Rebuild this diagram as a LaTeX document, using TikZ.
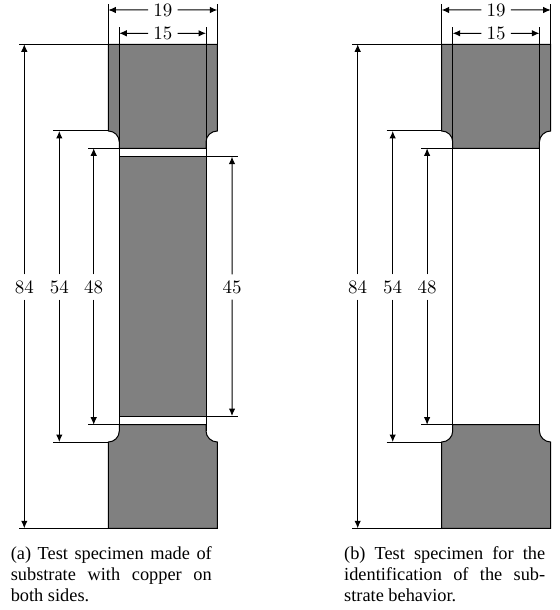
\documentclass[tikz,border=0pt]{standalone}
\usepackage{fontspec}
\usetikzlibrary{arrows.meta}
\newfontfamily\capfont{Liberation Serif}
\tikzset{
  body/.style={draw=black,fill=black!50,line width=1bp},
  edge/.style={draw=black,line width=1bp},
  dimline/.style={draw=black,line width=1bp,-{Latex[length=7.5bp,width=6.5bp]}},
  dimlabel/.style={font=\fontsize{10}{12}\selectfont,scale=1.9,fill=white,inner xsep=2.6bp,inner ysep=2.9bp},
  toplabel/.style={dimlabel,inner ysep=0.5bp},
  captiontext/.style={font=\capfont\fontsize{18.4}{20.8}\selectfont,text width=201bp,inner sep=0pt,anchor=north west}
}
\newcommand{\capline}[1]{\par\noindent\hbox to 201bp{\spaceskip=0pt\xspaceskip=0pt #1}\par}
\newcommand{\specimen}{%
  \path[body] (108.3,44.3)--(217.3,44.3)--(217.3,131) .. controls (211.2,131) and (206,135.9) .. (206,142)
     --(206,148.3)--(119.3,148.3)--(119.3,142) .. controls (119.3,135.9) and (114.4,131) .. (108.3,131)--cycle;
  \path[body] (108.3,528.3)--(217.3,528.3)--(217.3,442) .. controls (211.2,442) and (206,437) .. (206,431)
     --(206,424.7)--(119.3,424.7)--(119.3,431) .. controls (119.3,437) and (114.4,442) .. (108.3,442)--cycle;
  \coordinate (a19l) at (108.3,10); \coordinate (a19r) at (217.3,10);
  \coordinate (a15l) at (119.3,33.3); \coordinate (a15r) at (206,33.3);
  \node[toplabel] (n19) at (162.8,10) {19};
  \node[toplabel] (n15) at (162.8,33.3) {15};
  \draw[dimline] (n19)--(a19l); \draw[dimline] (n19)--(a19r);
  \draw[dimline] (n15)--(a15l); \draw[dimline] (n15)--(a15r);
  \coordinate (il1) at (119.3,27.3); \coordinate (il2) at (119.3,431);
  \coordinate (ir1) at (206,27.3);   \coordinate (ir2) at (206,431);
  \coordinate (ol) at (108.3,4.3);   \coordinate (olb) at (108.3,44.3);
  \coordinate (or) at (217.3,4.3);   \coordinate (orb) at (217.3,44.3);
  \draw[edge] (il1)--(il2) (ir1)--(ir2) (ol)--(olb) (or)--(orb);
  % extension lines
  \coordinate (e84a) at (19,44.3);    \coordinate (e84b) at (108.3,44.3);
  \coordinate (e84c) at (19,528.3);   \coordinate (e84d) at (108.3,528.3);
  \coordinate (e54a) at (53.3,131);   \coordinate (e54b) at (108.3,131);
  \coordinate (e54c) at (53.3,442);   \coordinate (e54d) at (108.3,442);
  \coordinate (e48a) at (88,148.3);   \coordinate (e48b) at (119.3,148.3);
  \coordinate (e48c) at (88,424.7);   \coordinate (e48d) at (119.3,424.7);
  \draw[edge] (e84a)--(e84b) (e84c)--(e84d) (e54a)--(e54b) (e54c)--(e54d) (e48a)--(e48b) (e48c)--(e48d);
  \foreach \nm/\xx/\ya/\yb in {84/24.3/44.3/528.3,54/59.3/131/442,48/93.7/148.3/424.7}{
    \coordinate (t\nm) at (\xx,\ya); \coordinate (b\nm) at (\xx,\yb);
    \node[dimlabel] (n\nm) at (\xx,287) {\nm};
    \draw[dimline] (n\nm)--(t\nm); \draw[dimline] (n\nm)--(b\nm);
  }
}
\begin{document}
\begin{tikzpicture}[x=1bp,y=-1bp]
\useasboundingbox (0,0) rectangle (560,610);
\begin{scope}
  \specimen
  \path[body] (119.3,156.7) rectangle (206,416);
  \coordinate (e45a) at (191.7,156.7); \coordinate (e45b) at (237.7,156.7);
  \coordinate (e45c) at (191.7,416);   \coordinate (e45d) at (237.7,416);
  \draw[edge] (e45a)--(e45b) (e45c)--(e45d);
  \coordinate (t45) at (232,156.7); \coordinate (b45) at (232,416);
  \node[dimlabel] (n45) at (232,287) {45};
  \draw[dimline] (n45)--(t45); \draw[dimline] (n45)--(b45);
\end{scope}
\begin{scope}[xshift=333.4bp]
  \specimen
\end{scope}
\node[captiontext] (capa) at (10.6,539) {\capline{(a) Test specimen made of}\capline{substrate with copper on}\capline{both sides.\hfill}};
\node[captiontext] (capb) at (344,539) {\capline{(b) Test specimen for the}\capline{identification of the sub-}\capline{strate behavior.\hfill}};
\end{tikzpicture}
\end{document}
